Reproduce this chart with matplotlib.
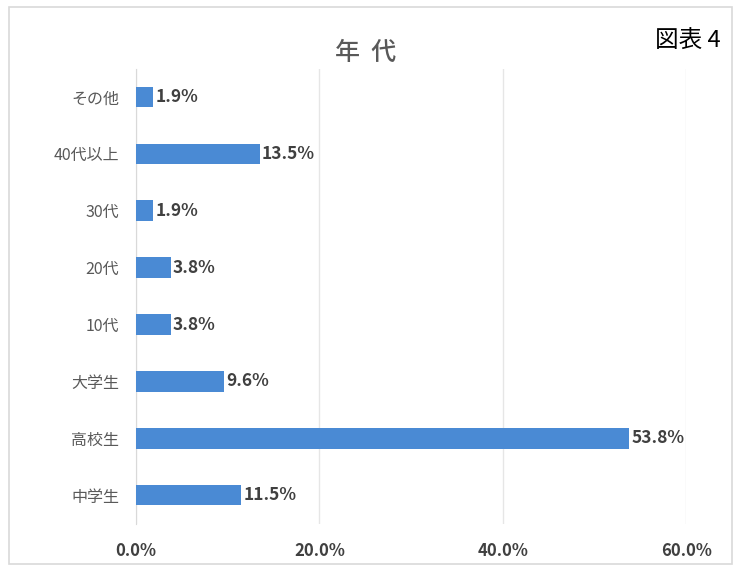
import matplotlib.pyplot as plt
from matplotlib.patches import Rectangle

plt.rcParams['font.family'] = ['Noto Sans CJK JP', 'DejaVu Sans']

categories = ["中学生", "高校生", "大学生", "10代", "20代", "30代", "40代以上", "その他"]
values = [11.5, 53.8, 9.6, 3.8, 3.8, 1.9, 13.5, 1.9]
ticks = [0, 20, 40, 60]

fig = plt.figure(figsize=(7.41, 5.71), dpi=100)
ax = fig.add_axes([0.1835, 0.083, 0.7425, 0.797])

# outer frame
fig.patches.append(Rectangle((0.012, 0.012), 0.976, 0.975, transform=fig.transFigure,
                             fill=False, edgecolor="#d9d9d9", linewidth=1.2))

y = range(len(categories))
ax.barh(y, values, height=0.36, color="#4a8ad4", zorder=3)
for i, v in enumerate(values):
    ax.text(v + 0.2, i, f"{v:.1f}%", va="center", ha="left", fontsize=12.5,
            fontweight="bold", color="#404040")

ax.set_xlim(0, 60)
ax.set_ylim(-0.5, len(categories) - 0.5)
ax.set_yticks(list(y))
ax.set_yticklabels(categories, fontsize=11.5, color="#595959")
ax.set_xticks(ticks)
ax.set_xticklabels([f"{t:.1f}%" for t in ticks], fontsize=12, fontweight="bold", color="#404040")
ax.tick_params(length=0, pad=12)
ax.tick_params(axis="x", pad=13)
ax.grid(axis="x", color="#e6e6e6", linewidth=1, zorder=0)
for s in ["top", "right", "bottom"]:
    ax.spines[s].set_visible(False)
ax.spines["left"].set_color("#d9d9d9")

fig.text(0.493, 0.908, "年  代", ha="center", va="center", fontsize=18,
         fontweight="medium", color="#595959")
fig.text(0.928, 0.927, "図表 4", ha="center", va="center", fontsize=17, color="black")

fig.savefig("out.png", dpi=100)
